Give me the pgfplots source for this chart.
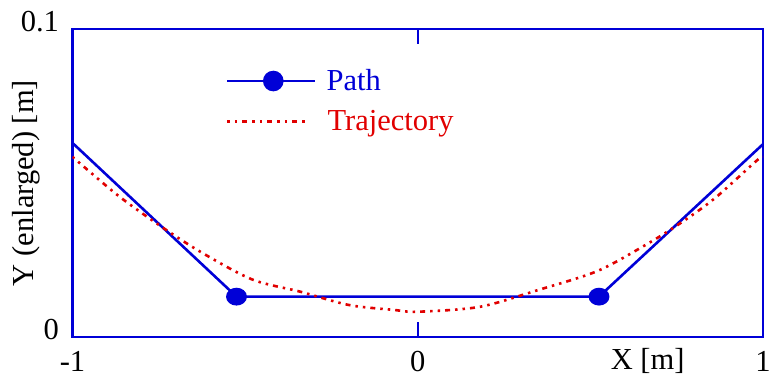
\documentclass[border=0pt]{standalone}
\usepackage{fontspec}
\setmainfont{Liberation Serif}
\usepackage{pgfplots}
\pgfplotsset{compat=1.18}
\definecolor{pathblue}{RGB}{0,0,215}
\definecolor{trajred}{RGB}{225,0,0}
\tikzset{trajline/.style={trajred, line width=2.6pt,
         dash pattern={on 2.5pt off 5pt on 2.5pt off 5pt on 5pt off 5pt}}}

\begin{document}
\begin{tikzpicture}
\begin{axis}[
  scale only axis,
  width=690.5pt, height=308pt,
  xmin=-1, xmax=1, ymin=0, ymax=0.1,
  axis line style={pathblue, line width=2.8pt},
  xtick={-1,0,1}, ytick={0,0.1},
  xticklabels={-1,0,1}, yticklabels={0,0.1},
  tick pos=both, tick align=inside,
  major tick length=15pt,
  tick style={pathblue, line width=2.4pt},
  font=\fontsize{30.5}{36}\selectfont,
  /pgf/number format/assume math mode=true,
  xticklabel style={yshift=-11pt},
  yticklabel style={xshift=-10pt, yshift=7pt},
  xlabel={X [m]},
  xlabel style={at={(rel axis cs:0.833,0)}, anchor=north, yshift=-8pt},
  ylabel={Y (enlarged) [m]},
  ylabel style={at={(rel axis cs:0,0.5)}, anchor=south, yshift=29pt},
  legend style={draw=none, fill=none, at={(rel axis cs:0.222,0.875)}, anchor=north west,
                row sep=14pt, font=\fontsize{30.5}{36}\selectfont, inner sep=0pt},
  legend cell align=left,
]
% planned path through two via points
\addplot[pathblue, line width=2.6pt, mark=*, mark size=7.6pt,
         every mark/.append style={xscale=1.2, solid}, mark indices={2,3},
         legend image code/.code={
           \draw[pathblue, line width=2.6pt] (0pt,0pt) -- (88pt,0pt);
           \fill[pathblue] (46pt,0pt) circle (9pt);}]
  coordinates {(-1,0.063) (-0.525,0.0131) (0.525,0.0131) (1,0.0626)};
\addlegendentry{\hspace{8pt}\textcolor{pathblue}{Path}}
% resulting trajectory
\addplot[trajline, smooth, tension=0.5,
         legend image code/.code={\draw[trajline] (0pt,0pt) -- (82pt,0pt);}]
  coordinates {
    (-1,0.0585) (-0.87,0.0461) (-0.75,0.0364) (-0.63,0.0277) (-0.48,0.0187)
    (-0.34,0.0147) (-0.2,0.0104) (-0.07,0.0088) (0,0.0082) (0.18,0.0098)
    (0.35,0.0153) (0.52,0.0214) (0.66,0.0299) (0.76,0.0369) (0.86,0.045)
    (0.98,0.0571) (1,0.0585)};
\addlegendentry{\hspace{9pt}\textcolor{trajred}{Trajectory}}
\end{axis}
\pgfresetboundingbox
\path[use as bounding box] (-72.5pt,-42pt) rectangle (701.5pt,337pt);
\end{tikzpicture}
\end{document}
